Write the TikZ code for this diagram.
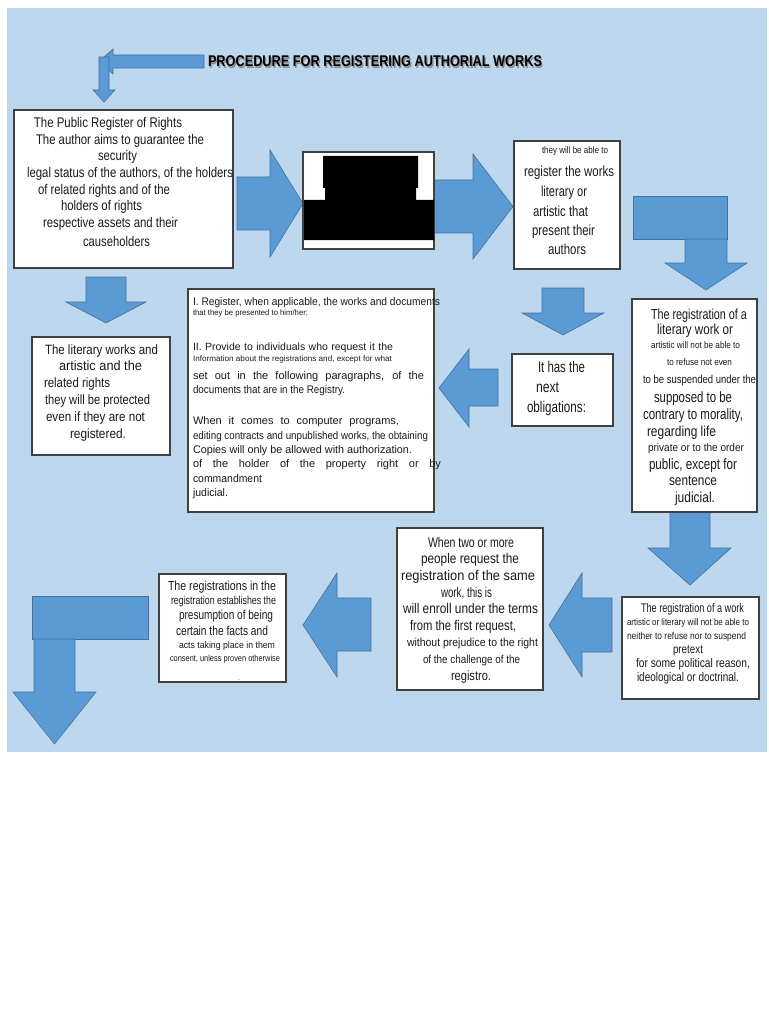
\documentclass[tikz,border=0pt]{standalone}
\usepackage{fontspec}
\setmainfont{Liberation Sans}
\usepackage{graphicx}
\definecolor{bgblue}{HTML}{BDD7EE}
\definecolor{arrblue}{HTML}{5B9BD5}
\definecolor{arredge}{HTML}{41719C}
\definecolor{txt}{HTML}{1A1A1A}
\newlength\tlw
% fitted line: [style] name, x, baseline, width, size, text
\newcommand\fl[7][]{%
  \node[txtline,#1,font=\fontsize{#6}{#6}\selectfont] (#2) at (#3,#4)
    {\settowidth\tlw{#7}\pgfmathsetmacro\sxf{#5/\tlw}\scalebox{\sxf}[1]{#7}};}
% justified line: name, x, baseline, width, size, text
\newcommand\jl[6]{\node[txtline,font=\fontsize{#5}{#5}\selectfont] (#1) at (#2,#3) {\makebox[#4pt][s]{#6}};}
% box: name, x, y, w, h
\newcommand\bx[5]{\node[wbox, minimum width=#4pt, minimum height=#5pt] (#1) at (#2,#3) {};}
\begin{document}
\begin{tikzpicture}[x=1pt,y=-1pt,
  wbox/.style={draw=black!75, line width=1.1pt, fill=white, inner sep=0pt, outer sep=0pt, anchor=north west},
  arr/.style={fill=arrblue, draw=arredge, line width=0.6pt, line join=miter},
  txtline/.style={anchor=base west, inner sep=0pt, outer sep=0pt, text=txt}]
\fill[white] (0,0) rectangle (768,1024);
\useasboundingbox (0,0) rectangle (768,1024);
\fill[bgblue] (7,8) rectangle (767,752);

% ---- title and top-left bent arrow
\draw[arr] (204,55) -- (113,55) -- (113,49) -- (99,61.5) -- (113,74) -- (113,68) -- (204,68) -- cycle;
\draw[arr] (99,57) -- (109,57) -- (109,90) -- (115,90) -- (104,102) -- (93,90) -- (99,90) -- cycle;
\fl[text=black!45]{titleshadow}{209.2}{68.2}{334}{15.5}{\bfseries PROCEDURE FOR REGISTERING AUTHORIAL WORKS}
\fl[text=black]{title}{208}{67}{334}{15.5}{\bfseries PROCEDURE FOR REGISTERING AUTHORIAL WORKS}

% ---- arrows
\draw[arr] (237,177) -- (270,177) -- (270,150) -- (303,203.5) -- (270,257) -- (270,230) -- (237,230) -- cycle;
\draw[arr] (434,180) -- (473,180) -- (473,154) -- (513,206.5) -- (473,259) -- (473,233) -- (434,233) -- cycle;
\draw[arr] (633,196) rectangle (727,239);
\draw[arr] (685,239) -- (727,239) -- (727,263) -- (747,263) -- (706,290) -- (665,263) -- (685,263) -- cycle;
\draw[arr] (86,277) -- (126,277) -- (126,302) -- (146,302) -- (106,323) -- (66,302) -- (86,302) -- cycle;
\draw[arr] (542,288) -- (584,288) -- (584,313) -- (604,313) -- (563,335) -- (522,313) -- (542,313) -- cycle;
\draw[arr] (498,369) -- (469,369) -- (469,349) -- (439,388) -- (469,427) -- (469,406) -- (498,406) -- cycle;
\draw[arr] (670,512) -- (710,512) -- (710,548) -- (731,548) -- (690,585) -- (648,548) -- (670,548) -- cycle;
\draw[arr] (612,598) -- (582,598) -- (582,573) -- (549,625) -- (582,677) -- (582,652) -- (612,652) -- cycle;
\draw[arr] (371,598) -- (337,598) -- (337,573) -- (303,625) -- (337,677) -- (337,651) -- (371,651) -- cycle;
\draw[arr] (32,596) rectangle (148,639);
\draw[arr] (34,639) -- (75,639) -- (75,692) -- (96,692) -- (54.5,744) -- (13,692) -- (34,692) -- cycle;

% ---- boxes
\bx{b1}{14}{110}{219}{158}
\bx{bk}{303}{152}{131}{97}
\fill[black] (323,156) -- (418,156) -- (418,188) -- (416,188) -- (416,200) -- (434,200) -- (434,240) -- (304,240) -- (304,200) -- (325,200) -- (325,188) -- (323,188) -- cycle;
\bx{b3}{514}{141}{106}{128}
\bx{bl}{32}{337}{138}{118}
\bx{bm}{188}{289}{246}{223}
\bx{bo}{512}{354}{101}{72}
\bx{br}{632}{299}{125}{213}
\bx{bbr}{622}{597}{137}{102}
\bx{bbm}{397}{528}{146}{162}
\bx{bbl}{159}{574}{127}{108}

% ---- box 1
\fl{b1a}{34}{128}{148}{14}{The Public Register of Rights}
\fl{b1b}{36}{145}{168}{14}{The author aims to guarantee the}
\fl{b1c}{98}{161}{39}{14}{security}
\fl{b1d}{27}{178}{206}{14}{legal status of the authors, of the holders}
\fl{b1e}{38}{195}{132}{14}{of related rights and of the}
\fl{b1f}{61}{211}{81}{14}{holders of rights}
\fl{b1g}{43}{228}{135}{14}{respective assets and their}
\fl{b1h}{83}{246}{67}{14}{causeholders}

% ---- box 3
\fl{b3a}{542}{154}{66}{9.5}{they will be able to}
\fl{b3b}{524}{177}{90}{14.5}{register the works}
\fl{b3c}{541}{197}{46}{14.5}{literary or}
\fl{b3d}{533}{217}{55}{14.5}{artistic that}
\fl{b3e}{532}{236}{63}{14.5}{present their}
\fl{b3f}{548}{254}{38}{14.5}{authors}

% ---- left box
\fl{bla}{45}{354}{113}{13.5}{The literary works and}
\fl{blb}{59}{370}{83}{13.5}{artistic and the}
\fl{blc}{44}{387}{66}{13.5}{related rights}
\fl{bld}{45}{404}{105}{13.5}{they will be protected}
\fl{ble}{46}{421}{99}{13.5}{even if they are not}
\fl{blf}{70}{438}{56}{13.5}{registered.}

% ---- middle box
\fl{m1}{193}{305}{247}{11}{I. Register, when applicable, the works and documents}
\fl{m2}{193}{315}{115}{8}{that they be presented to him/her;}
\jl{m3}{193}{350}{200}{10.5}{II. Provide to individuals who request it the}
\fl{m4}{193}{361}{199}{8}{Information about the registrations and, except for what}
\jl{m5}{193}{379}{231}{11}{set out in the following paragraphs, of the}
\fl{m6}{193}{393}{152}{11}{documents that are in the Registry.}
\jl{m7}{193}{424}{206}{11}{When it comes to computer programs,}
\fl{m8}{193}{439}{235}{11}{editing contracts and unpublished works, the obtaining}
\fl{m9}{193}{453}{219}{11}{Copies will only be allowed with authorization.}
\jl{m10}{193}{467}{248}{11}{of the holder of the property right or by}
\fl{m11}{193}{482}{69}{11}{commandment}
\fl{m12}{193}{496}{35}{11}{judicial.}

% ---- obligations box
\fl{boa}{538}{372}{47}{15.5}{It has the}
\fl{bob}{536}{392}{23}{15.5}{next}
\fl{boc}{527}{412}{59}{15.5}{obligations:}

% ---- right box
\fl{br1}{651}{319}{96}{14.5}{The registration of a}
\fl{br2}{657}{334}{76}{14.5}{literary work or}
\fl{br3}{651}{348}{89}{9.5}{artistic will not be able to}
\fl{br4}{667}{365}{65}{9.5}{to refuse not even}
\fl{br5}{643}{383}{113}{11.5}{to be suspended under the}
\fl{br6}{654}{402}{78}{15}{supposed to be}
\fl{br7}{643}{419}{100}{15}{contrary to morality,}
\fl{br8}{647}{436}{69}{14.5}{regarding life}
\fl{br9}{648}{451}{96}{11}{private or to the order}
\fl{br10}{649}{469}{88}{15}{public, except for}
\fl{br11}{669}{485}{48}{14.5}{sentence}
\fl{br12}{675}{502}{40}{14.5}{judicial.}

% ---- bottom-right box
\fl{bbr1}{641}{612}{103}{12.5}{The registration of a work}
\fl{bbr2}{627}{625}{122}{9.5}{artistic or literary will not be able to}
\fl{bbr3}{627}{639}{119}{10}{neither to refuse nor to suspend}
\fl{bbr4}{673}{653}{30}{12}{pretext}
\fl{bbr5}{636}{667}{114}{12.5}{for some political reason,}
\fl{bbr6}{637}{681}{102}{12.5}{ideological or doctrinal.}

% ---- bottom-middle box
\fl{bbm1}{428}{547}{86}{14}{When two or more}
\fl{bbm2}{421}{563}{98}{14}{people request the}
\fl{bbm3}{401}{580}{134}{14}{registration of the same}
\fl{bbm4}{441}{597}{51}{14}{work, this is}
\fl{bbm5}{403}{613}{135}{14}{will enroll under the terms}
\fl{bbm6}{410}{630}{106}{14}{from the first request,}
\fl{bbm7}{407}{646}{131}{11.5}{without prejudice to the right}
\fl{bbm8}{423}{663}{97}{11.5}{of the challenge of the}
\fl{bbm9}{451}{680}{40}{13.5}{registro.}

% ---- bottom-left box
\fl{bbl1}{168}{590}{108}{13}{The registrations in the}
\fl{bbl2}{171}{604}{105}{11.5}{registration establishes the}
\fl{bbl3}{179}{619}{94}{13}{presumption of being}
\fl{bbl4}{176}{635}{92}{13}{certain the facts and}
\fl{bbl5}{179}{648}{96}{9.5}{acts taking place in them}
\fl{bbl6}{170}{661}{110}{9}{consent, unless proven otherwise}
\begin{scope}
  \clip (160,575) rectangle (285,679.5);
  \fl{bbl7}{203}{686}{42}{9}{a contrario}
\end{scope}
\end{tikzpicture}
\end{document}
